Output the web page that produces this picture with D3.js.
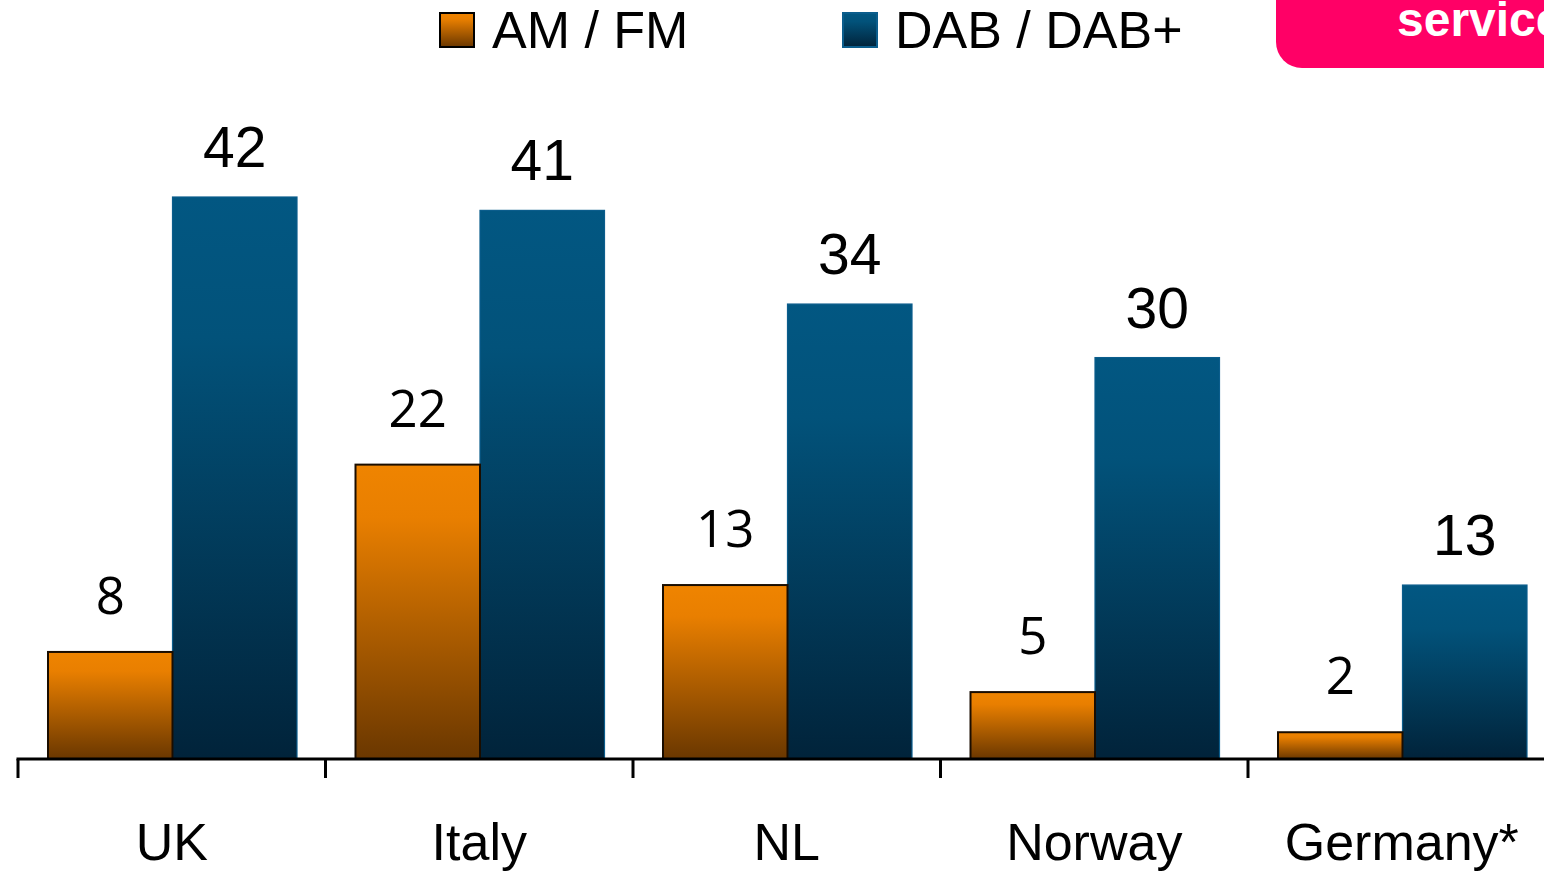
<!DOCTYPE html>
<html>
<head>
<meta charset="utf-8">
<script src="https://cdn.jsdelivr.net/npm/d3@7"></script>
<style>
  html, body { margin: 0; padding: 0; background: #ffffff; overflow: hidden; }
  svg { display: block; }
</style>
</head>
<body>
<svg id="chart" width="1544" height="872"></svg>
<script>
const categories = ["UK", "Italy", "NL", "Norway", "Germany*"];
const seriesNames = ["AM / FM", "DAB / DAB+"];
const amFm = [8, 22, 13, 5, 2];
const dab = [42, 41, 34, 30, 13];
const badgeText = "service";

const svg = d3.select("#chart");
const W = 1544, H = 872;
const baseY = 759;

const defs = svg.append("defs");
const gO = defs.append("linearGradient").attr("id", "gOrange").attr("x1", 0).attr("y1", 0).attr("x2", 0).attr("y2", 1);
gO.append("stop").attr("offset", "0%").attr("stop-color", "#ef8400");
gO.append("stop").attr("offset", "18%").attr("stop-color", "#e97f00");
gO.append("stop").attr("offset", "100%").attr("stop-color", "#6a3700");
const gB = defs.append("linearGradient").attr("id", "gBlue").attr("x1", 0).attr("y1", 0).attr("x2", 0).attr("y2", 1);
gB.append("stop").attr("offset", "0%").attr("stop-color", "#025782");
gB.append("stop").attr("offset", "25%").attr("stop-color", "#02527a");
gB.append("stop").attr("offset", "100%").attr("stop-color", "#01233a");

const x = d3.scaleBand().domain(categories).range([18, 18 + 5 * 307.5]).padding(0);
const xs = d3.scaleBand().domain(seriesNames).range([30, 279]).padding(0);
const y = d3.scaleLinear().domain([0, 42]).range([baseY, 197]);

const data = categories.map((c, i) => ({ cat: c, vals: [
  { s: seriesNames[0], v: amFm[i] },
  { s: seriesNames[1], v: dab[i] }
]}));

const fills = { "AM / FM": "url(#gOrange)", "DAB / DAB+": "url(#gBlue)" };
const strokes = { "AM / FM": "#1a0d00", "DAB / DAB+": "#0b5d8c" };

const groups = svg.append("g").selectAll("g.grp").data(data).join("g")
  .attr("class", "grp")
  .attr("transform", d => `translate(${x(d.cat)},0)`);

// draw blue first then orange so orange's black stroke is on top at the shared edge
groups.selectAll("rect").data(d => d.vals.slice().reverse()).join("rect")
  .attr("x", d => xs(d.s))
  .attr("y", d => y(d.v))
  .attr("width", xs.bandwidth())
  .attr("height", d => baseY - y(d.v))
  .attr("fill", d => fills[d.s])
  .attr("stroke", d => strokes[d.s])
  .attr("stroke-width", d => d.s === "AM / FM" ? 2 : 1.2);

groups.selectAll("text.val").data(d => d.vals).join("text")
  .attr("class", "val")
  .attr("x", d => xs(d.s) + xs.bandwidth() / 2)
  .attr("y", d => y(d.v) - (d.s === "AM / FM" ? 38 : 30))
  .attr("text-anchor", "middle")
  .attr("font-family", d => d.s === "AM / FM" ? "'Open Sans', 'Noto Sans', sans-serif" : "'Liberation Sans', Arial, sans-serif")
  .attr("font-size", d => d.s === "AM / FM" ? 51 : 57)
  .attr("fill", "#000")
  .text(d => d.v);

// axis baseline and separating ticks
const axisG = svg.append("g").attr("transform", `translate(0,${baseY})`);
const xAxis = d3.axisBottom(x).tickSize(0).tickSizeOuter(0).tickPadding(62);
axisG.call(xAxis);
axisG.select(".domain").remove();
axisG.selectAll(".tick text")
  .attr("font-family", "'Liberation Sans', Arial, sans-serif")
  .attr("font-size", 52)
  .attr("fill", "#000")
  .attr("dy", 0)
  .attr("y", 101);

axisG.append("line")
  .attr("x1", x.range()[0] - 1.5).attr("x2", W)
  .attr("y1", 0).attr("y2", 0)
  .attr("stroke", "#000").attr("stroke-width", 3);

const boundaries = categories.map(c => x(c));
axisG.selectAll("line.sep").data(boundaries).join("line")
  .attr("class", "sep")
  .attr("x1", d => d).attr("x2", d => d)
  .attr("y1", 0).attr("y2", 19)
  .attr("stroke", "#000").attr("stroke-width", 3);

// legend
const legendPos = [{ x: 440, tx: 492 }, { x: 843, tx: 895 }];
const leg = svg.append("g").selectAll("g").data(seriesNames).join("g");
leg.append("rect")
  .attr("x", (d, i) => legendPos[i].x)
  .attr("y", 13)
  .attr("width", 34).attr("height", 34)
  .attr("fill", d => fills[d])
  .attr("stroke", d => d === "AM / FM" ? "#000" : "#0b5d8c")
  .attr("stroke-width", 2);
leg.append("text")
  .attr("x", (d, i) => legendPos[i].tx)
  .attr("y", 48)
  .attr("font-family", "'Liberation Sans', Arial, sans-serif")
  .attr("font-size", 52)
  .attr("fill", "#000")
  .text(d => d);

// pink badge cut at the top-right corner
svg.append("rect")
  .attr("x", 1276).attr("y", -40)
  .attr("width", 320).attr("height", 108)
  .attr("rx", 26).attr("ry", 26)
  .attr("fill", "#ff0066");
svg.append("text")
  .attr("x", 1397).attr("y", 36)
  .attr("font-family", "'Liberation Sans', Arial, sans-serif")
  .attr("font-weight", "bold")
  .attr("font-size", 48)
  .attr("fill", "#ffffff")
  .text(badgeText);
</script>
</body>
</html>
